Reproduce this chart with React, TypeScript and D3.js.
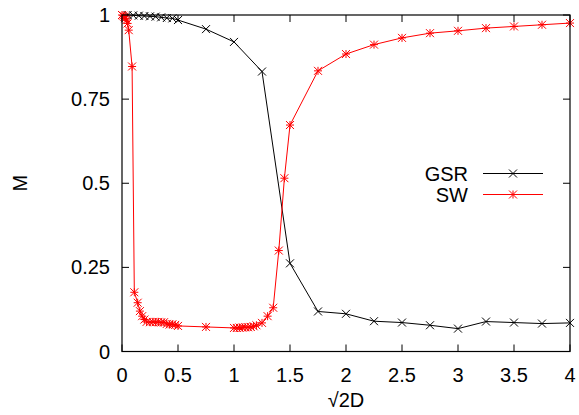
import React from "react";
import * as d3 from "d3";

const gsrX = [0, 0.05, 0.1, 0.15, 0.2, 0.25, 0.3, 0.35, 0.4, 0.45, 0.5, 0.75, 1, 1.25, 1.5, 1.75, 2, 2.25, 2.5, 2.75, 3, 3.25, 3.5, 3.75, 4];
const gsrY = [1, 1, 0.999, 0.998, 0.997, 0.996, 0.995, 0.993, 0.991, 0.99, 0.985, 0.958, 0.92, 0.832, 0.262, 0.119, 0.112, 0.09, 0.086, 0.078, 0.068, 0.089, 0.086, 0.083, 0.085];

const swX = [0, 0.01, 0.02, 0.03, 0.04, 0.05, 0.06, 0.09, 0.11, 0.14, 0.16, 0.18, 0.2, 0.22, 0.25, 0.275, 0.3, 0.325, 0.35, 0.375, 0.4, 0.425, 0.45, 0.475, 0.5, 0.75, 1, 1.025, 1.05, 1.075, 1.1, 1.125, 1.15, 1.175, 1.2, 1.25, 1.3, 1.35, 1.4, 1.45, 1.5, 1.75, 2, 2.25, 2.5, 2.75, 3, 3.25, 3.5, 3.75, 4];
const swY = [1, 0.998, 0.995, 0.99, 0.985, 0.975, 0.955, 0.847, 0.176, 0.145, 0.12, 0.105, 0.095, 0.088, 0.087, 0.088, 0.087, 0.088, 0.086, 0.087, 0.082, 0.08, 0.081, 0.079, 0.076, 0.073, 0.07, 0.07, 0.071, 0.071, 0.072, 0.072, 0.073, 0.075, 0.078, 0.085, 0.105, 0.13, 0.3, 0.515, 0.673, 0.834, 0.884, 0.912, 0.932, 0.946, 0.953, 0.961, 0.966, 0.971, 0.976];

const xTicks = [0, 0.5, 1, 1.5, 2, 2.5, 3, 3.5, 4];
const yTicks = [0, 0.25, 0.5, 0.75, 1];
const yTickLabels = ["0", "0.25", "0.5", "0.75", "1"];

const W = 579, H = 415;
const L = 122, R = 570, T = 15, B = 351.5;
const FONT = "'Liberation Sans', Arial, sans-serif";
const FS = 20;

function Cross({ x, y, color }: { x: number; y: number; color: string }) {
  const s = 4;
  return (
    <path d={`M${x - s},${y - s}L${x + s},${y + s}M${x - s},${y + s}L${x + s},${y - s}`} stroke={color} strokeWidth={1} fill="none" />
  );
}
function Star({ x, y, color }: { x: number; y: number; color: string }) {
  const s = 4;
  return (
    <path d={`M${x - s},${y - s}L${x + s},${y + s}M${x - s},${y + s}L${x + s},${y - s}M${x - s},${y}L${x + s},${y}M${x},${y - s}L${x},${y + s}`} stroke={color} strokeWidth={1} fill="none" />
  );
}

export default function App() {
  const xs = d3.scaleLinear().domain([0, 4]).range([L, R]);
  const ys = d3.scaleLinear().domain([0, 1]).range([B, T]);
  const line = d3.line<[number, number]>().x((d) => xs(d[0])).y((d) => ys(d[1]));
  const gsr: [number, number][] = gsrX.map((x, i) => [x, gsrY[i]]);
  const sw: [number, number][] = swX.map((x, i) => [x, swY[i]]);
  const tl = 7;
  const red = "#ff0000";
  const legX1 = 483, legX2 = 543;
  const legY1 = 173.5, legY2 = 194.5;
  return (
    <svg width={W} height={H} style={{ display: "block", position: "absolute", left: 0, top: 0 }} fontFamily={FONT}>
      <rect width={W} height={H} fill="#fff" />
      <g stroke="#000" strokeWidth={1}>
        {xTicks.map((t) => (
          <g key={"xt" + t}>
            <line x1={xs(t)} x2={xs(t)} y1={B} y2={B - tl} />
            <line x1={xs(t)} x2={xs(t)} y1={T} y2={T + tl} />
          </g>
        ))}
        {yTicks.map((t) => (
          <g key={"yt" + t}>
            <line x1={L} x2={L + tl} y1={ys(t)} y2={ys(t)} />
            <line x1={R} x2={R - tl} y1={ys(t)} y2={ys(t)} />
          </g>
        ))}
      </g>
      {xTicks.map((t) => (
        <text key={"xl" + t} x={xs(t)} y={382} fontSize={FS} textAnchor="middle">{String(t)}</text>
      ))}
      {yTicks.map((t, i) => (
        <text key={"yl" + t} x={110} y={ys(t) + 7} fontSize={FS} textAnchor="end">{yTickLabels[i]}</text>
      ))}
      <text x={(L + R) / 2} y={407} fontSize={FS} textAnchor="middle">√2D</text>
      <text transform={`translate(27,${(T + B) / 2}) rotate(-90)`} fontSize={FS} textAnchor="middle">M</text>

      <path d={line(gsr) || ""} stroke="#000" strokeWidth={1} fill="none" />
      {gsr.map((d, i) => <Cross key={"g" + i} x={xs(d[0])} y={ys(d[1])} color="#000" />)}
      <path d={line(sw) || ""} stroke={red} strokeWidth={1} fill="none" />
      {sw.map((d, i) => <Star key={"s" + i} x={xs(d[0])} y={ys(d[1])} color={red} />)}

      <text x={468} y={181} fontSize={FS} textAnchor="end">GSR</text>
      <line x1={legX1} x2={legX2} y1={legY1} y2={legY1} stroke="#000" strokeWidth={1} />
      <Cross x={(legX1 + legX2) / 2} y={legY1} color="#000" />
      <text x={468} y={202} fontSize={FS} textAnchor="end">SW</text>
      <line x1={legX1} x2={legX2} y1={legY2} y2={legY2} stroke={red} strokeWidth={1} />
      <Star x={(legX1 + legX2) / 2} y={legY2} color={red} />

      <rect x={L} y={T} width={R - L} height={B - T} fill="none" stroke="#000" strokeWidth={1.2} />
    </svg>
  );
}
